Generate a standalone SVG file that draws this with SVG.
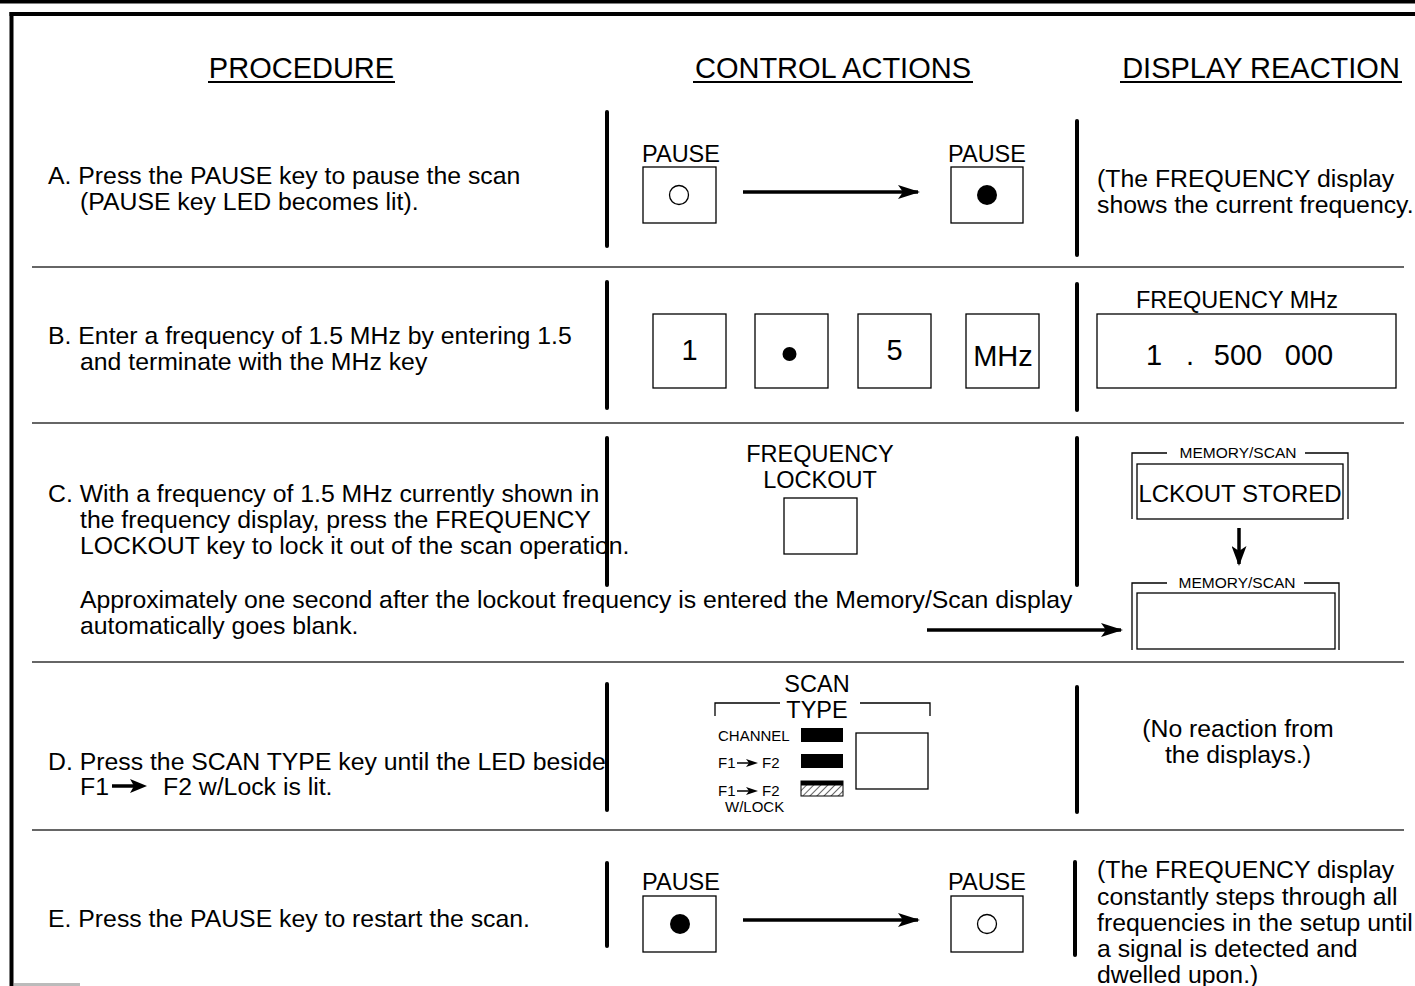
<svg xmlns="http://www.w3.org/2000/svg" width="1415" height="986" viewBox="0 0 1415 986">
<defs>
<style>
text{font-family:"Liberation Sans",Arial,sans-serif;fill:#000}
.h{font-size:29px}
.b{font-size:24.8px}
.lbl{font-size:23.5px;text-anchor:middle}
.key{font-size:29px;text-anchor:middle}
.sm{font-size:15.5px;text-anchor:middle}
.tiny{font-size:15px}
.bar{stroke:#000;stroke-width:4;stroke-linecap:round}
.sep{stroke:#666;stroke-width:2}
.box{fill:#fff;stroke:#000;stroke-width:1.3}
.thin{fill:none;stroke:#000;stroke-width:1.3}
.arr{stroke:#000;stroke-width:3.5;fill:none}
</style>
<marker id="ah" markerUnits="userSpaceOnUse" markerWidth="22" markerHeight="14" viewBox="0 0 22 14" refX="20" refY="7" orient="auto">
<path d="M0,0 L22,7 L0,14 L5,7 Z" fill="#000"/>
</marker>
<marker id="ahd" markerUnits="userSpaceOnUse" markerWidth="20" markerHeight="15" viewBox="0 0 20 15" refX="18" refY="7.5" orient="auto">
<path d="M0,0 L20,7.5 L0,15 L5,7.5 Z" fill="#000"/>
</marker>
<pattern id="hatch" patternUnits="userSpaceOnUse" width="5" height="5" patternTransform="rotate(45)">
<line x1="0" y1="0" x2="0" y2="5" stroke="#000" stroke-width="1.2"/>
</pattern>
</defs>
<rect width="1415" height="986" fill="#fff"/>
<g id="frame">
<rect x="0" y="0" width="1415" height="3.5" fill="#000"/>
<rect x="9.5" y="12" width="1405.5" height="4" fill="#000"/>
<rect x="9.5" y="12" width="4" height="974" fill="#000"/>
<line x1="14" y1="984.5" x2="80" y2="984.5" stroke="#bbb" stroke-width="3"/>
</g>
<g id="headers">
<text class="h" x="301.5" y="78" text-anchor="middle">PROCEDURE</text>
<line x1="208" y1="82" x2="395" y2="82" stroke="#000" stroke-width="2"/>
<text class="h" x="833" y="78" text-anchor="middle">CONTROL ACTIONS</text>
<line x1="693" y1="82" x2="973" y2="82" stroke="#000" stroke-width="2"/>
<text class="h" x="1261" y="78" text-anchor="middle">DISPLAY REACTION</text>
<line x1="1120" y1="82" x2="1402" y2="82" stroke="#000" stroke-width="2"/>
</g>
<g id="separators">
<line class="sep" x1="32" y1="267" x2="1404" y2="267"/>
<line class="sep" x1="32" y1="423" x2="1404" y2="423"/>
<line class="sep" x1="32" y1="662" x2="1404" y2="662"/>
<line class="sep" x1="32" y1="830" x2="1404" y2="830"/>
</g>
<g id="column-bars">
<line class="bar" x1="607" y1="112" x2="607" y2="246"/>
<line class="bar" x1="1077" y1="121" x2="1077" y2="255"/>
<line class="bar" x1="607" y1="282" x2="607" y2="408"/>
<line class="bar" x1="1077" y1="284" x2="1077" y2="410"/>
<line class="bar" x1="607" y1="438" x2="607" y2="585"/>
<line class="bar" x1="1077" y1="438" x2="1077" y2="585"/>
<line class="bar" x1="607" y1="684" x2="607" y2="810"/>
<line class="bar" x1="1077" y1="687" x2="1077" y2="812"/>
<line class="bar" x1="607" y1="863" x2="607" y2="946"/>
<line class="bar" x1="1075" y1="862" x2="1075" y2="955"/>
</g>
<g id="step-a">
<text class="b" x="48" y="184">A. Press the PAUSE key to pause the scan</text>
<text class="b" x="80" y="210">(PAUSE key LED becomes lit).</text>
</g>
<g id="pause-a1">
<text class="lbl" x="681" y="162">PAUSE</text>
<rect class="box" x="643" y="167" width="73" height="56"/>
<circle cx="679" cy="195" r="9.5" fill="#fff" stroke="#000" stroke-width="1.3"/>
</g>
<g id="pause-a2">
<text class="lbl" x="987" y="162">PAUSE</text>
<rect class="box" x="951" y="167" width="72" height="56"/>
<circle cx="987" cy="195" r="10" fill="#000"/>
</g>
<g id="display-a">
<text class="b" x="1097" y="187">(The FREQUENCY display</text>
<text class="b" x="1097" y="213">shows the current frequency.</text>
</g>
<g id="step-b">
<text class="b" x="48" y="344">B. Enter a frequency of 1.5 MHz by entering 1.5</text>
<text class="b" x="80" y="370">and terminate with the MHz key</text>
</g>
<g id="key-1">
<rect class="box" x="653" y="314" width="73" height="74"/>
<text class="key" x="689.5" y="360">1</text>
</g>
<g id="key-dot">
<rect class="box" x="755" y="314" width="73" height="74"/>
<circle cx="789.5" cy="354" r="7" fill="#000"/>
</g>
<g id="key-5">
<rect class="box" x="858" y="314" width="73" height="74"/>
<text class="key" x="894.5" y="360">5</text>
</g>
<g id="key-mhz">
<rect class="box" x="966" y="314" width="73" height="74"/>
<text class="key" x="1003" y="366">MHz</text>
</g>
<g id="display-b">
<text class="lbl" x="1237" y="308">FREQUENCY MHz</text>
<rect class="box" x="1097" y="314" width="299" height="74"/>
<text class="key" x="1154" y="365">1</text>
<text class="key" x="1190" y="365">.</text>
<text class="key" x="1238" y="365">500</text>
<text class="key" x="1309" y="365">000</text>
</g>
<g id="step-c">
<text class="b" x="48" y="502">C. With a frequency of 1.5 MHz currently shown in</text>
<text class="b" x="80" y="528">the frequency display, press the FREQUENCY</text>
<text class="b" x="80" y="554">LOCKOUT key to lock it out of the scan operation.</text>
<text class="b" x="80" y="608">Approximately one second after the lockout frequency is entered the Memory/Scan display</text>
<text class="b" x="80" y="634">automatically goes blank.</text>
</g>
<g id="freq-lockout">
<text class="lbl" x="820" y="462">FREQUENCY</text>
<text class="lbl" x="820" y="488">LOCKOUT</text>
<rect class="box" x="784" y="498" width="73" height="56"/>
</g>
<g id="memscan-1">
<path class="thin" d="M1132,519 V453 H1167 M1305,453 H1348 V519"/>
<text class="sm" x="1238" y="458">MEMORY/SCAN</text>
<rect class="box" x="1137" y="464" width="206" height="55"/>
<text x="1240" y="502" text-anchor="middle" style="font-size:24px">LCKOUT STORED</text>
</g>
<g id="memscan-2">
<path class="thin" d="M1132,650 V583 H1167 M1304,583 H1339 V650"/>
<text class="sm" x="1237" y="588">MEMORY/SCAN</text>
<rect class="box" x="1137" y="593" width="198" height="56"/>
</g>
<g id="step-d">
<text class="b" x="48" y="770">D. Press the SCAN TYPE key until the LED beside</text>
<text class="b" x="80" y="795">F1</text>
<line x1="112" y1="786" x2="136" y2="786" stroke="#000" stroke-width="3.5"/>
<path d="M130,779 L147,786 L130,793 L134,786 Z" fill="#000"/>
<text class="b" x="163" y="795">F2 w/Lock is lit.</text>
</g>
<g id="scan-type">
<text class="lbl" x="817" y="692">SCAN</text>
<text class="lbl" x="817" y="718">TYPE</text>
<path class="thin" d="M715,716 V703 H780 M860,703 H930 V716"/>
<text class="tiny" x="718" y="741">CHANNEL</text>
<rect x="801" y="728" width="42" height="14" fill="#000"/>
<text class="tiny" x="718" y="768">F1</text>
<line x1="737" y1="763" x2="750" y2="763" stroke="#000" stroke-width="1.5"/>
<path d="M746,759 L758,763 L746,767 L749,763 Z" fill="#000"/>
<text class="tiny" x="762" y="768">F2</text>
<rect x="801" y="754" width="42" height="14" fill="#000"/>
<text class="tiny" x="718" y="796">F1</text>
<line x1="737" y1="791" x2="750" y2="791" stroke="#000" stroke-width="1.5"/>
<path d="M746,787 L758,791 L746,795 L749,791 Z" fill="#000"/>
<text class="tiny" x="762" y="796">F2</text>
<rect x="801" y="781" width="42" height="15" fill="url(#hatch)" stroke="#000" stroke-width="1"/>
<rect x="801" y="781" width="42" height="4.5" fill="#000"/>
<text class="tiny" x="725" y="812">W/LOCK</text>
<rect class="box" x="856" y="733" width="72" height="56"/>
</g>
<g id="display-d">
<text class="b" x="1238" y="737" text-anchor="middle">(No reaction from</text>
<text class="b" x="1238" y="763" text-anchor="middle">the displays.)</text>
</g>
<g id="step-e">
<text class="b" x="48" y="927">E. Press the PAUSE key to restart the scan.</text>
</g>
<g id="pause-e1">
<text class="lbl" x="681" y="890">PAUSE</text>
<rect class="box" x="643" y="896" width="73" height="56"/>
<circle cx="680" cy="924" r="10" fill="#000"/>
</g>
<g id="pause-e2">
<text class="lbl" x="987" y="890">PAUSE</text>
<rect class="box" x="951" y="896" width="72" height="56"/>
<circle cx="987" cy="924" r="9.5" fill="#fff" stroke="#000" stroke-width="1.3"/>
</g>
<g id="display-e">
<text class="b" x="1097" y="878">(The FREQUENCY display</text>
<text class="b" x="1097" y="905">constantly steps through all</text>
<text class="b" x="1097" y="931">frequencies in the setup until</text>
<text class="b" x="1097" y="957">a signal is detected and</text>
<text class="b" x="1097" y="983">dwelled upon.)</text>
</g>
<g id="connectors">
<line class="arr" x1="743" y1="192" x2="918" y2="192" marker-end="url(#ah)"/>
<line class="arr" x1="743" y1="920" x2="918" y2="920" marker-end="url(#ah)"/>
<line class="arr" x1="927" y1="630" x2="1121" y2="630" marker-end="url(#ah)"/>
<line x1="1239" y1="528" x2="1239" y2="564" stroke="#000" stroke-width="3.5" marker-end="url(#ahd)"/>
</g>
</svg>
